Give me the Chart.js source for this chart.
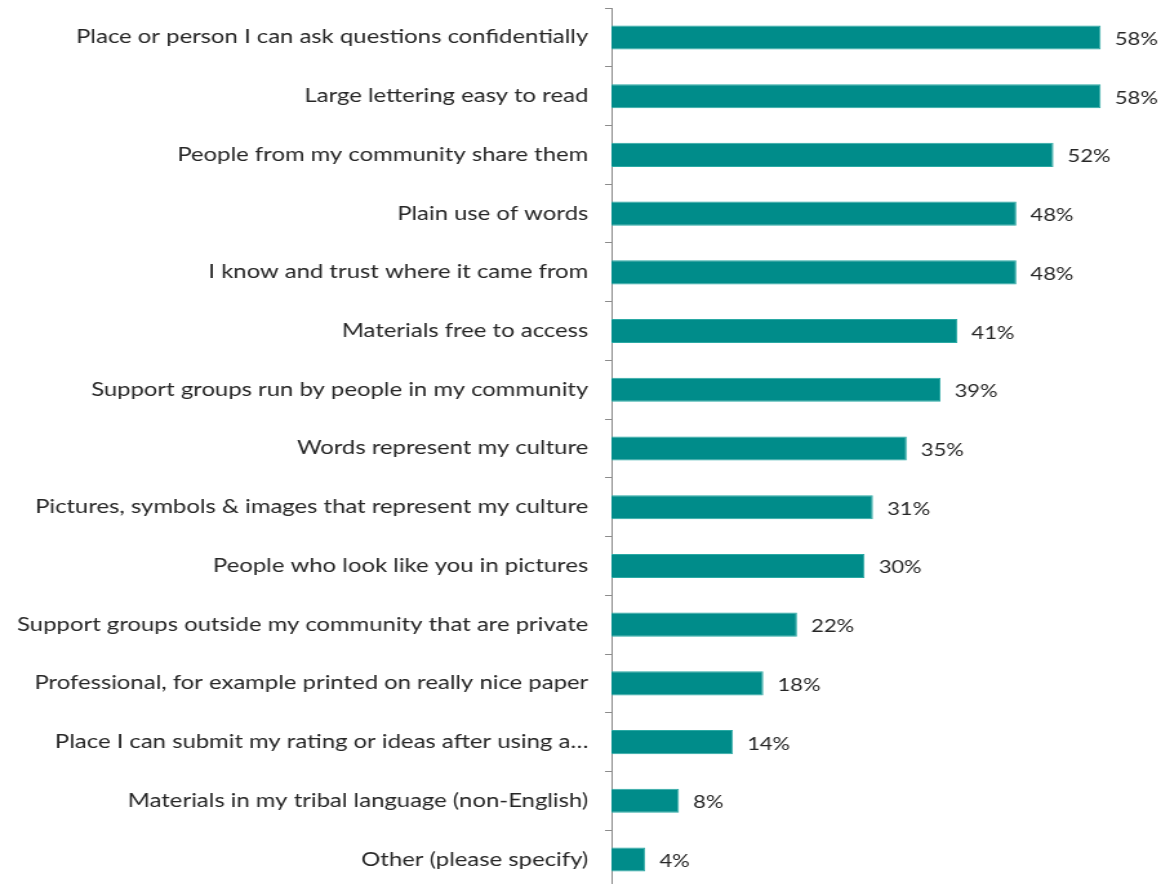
<!DOCTYPE html>
<html lang="en">
<head>
    <meta charset="UTF-8">
    <title>Preferred Materials</title>
    <style>
        html, body {
            margin: 0;
            padding: 0;
            background: #ffffff;
        }
        .frame {
            width: 1164px;
            height: 884px;
            overflow: hidden;
            position: relative;
        }
        /* the source image is stretched sideways, so the chart is too */
        .wrap {
            width: 902px;
            height: 929px;
            margin-top: -16px;
            transform: scaleX(1.29);
            transform-origin: 0 0;
        }
    </style>
    <script src="https://cdn.jsdelivr.net/npm/chart.js"></script>
</head>
<body>
    <div class="frame">
        <div class="wrap">
            <canvas id="barChart"></canvas>
        </div>
    </div>

    <script>
        const categories = [
            'Place or person I can ask questions confidentially',
            'Large lettering easy to read',
            'People from my community share them',
            'Plain use of words',
            'I know and trust where it came from',
            'Materials free to access',
            'Support groups run by people in my community',
            'Words represent my culture',
            'Pictures, symbols & images that represent my culture',
            'People who look like you in pictures',
            'Support groups outside my community that are private',
            'Professional, for example printed on really nice paper',
            'Place I can submit my rating or ideas after using a…',
            'Materials in my tribal language (non-English)',
            'Other (please specify)'
        ];
        const percentValues = [58, 58, 52.4, 48, 48, 41, 39, 35, 31, 30, 22, 18, 14.4, 8, 4];

        // draws the "58%" style labels right of each bar
        const valueLabels = {
            id: 'valueLabels',
            afterDatasetsDraw(chart) {
                const ctx = chart.ctx;
                const meta = chart.getDatasetMeta(0);
                ctx.save();
                ctx.font = '17px Lato, sans-serif';
                ctx.fillStyle = '#262626';
                ctx.textAlign = 'left';
                ctx.textBaseline = 'middle';
                meta.data.forEach((bar, i) => {
                    ctx.fillText(Math.round(percentValues[i]) + '%', bar.x + 11, bar.y + 2);
                });
                ctx.restore();
            }
        };

        const ctx = document.getElementById('barChart').getContext('2d');
        new Chart(ctx, {
            type: 'bar',
            data: {
                labels: categories,
                datasets: [{
                    data: percentValues,
                    backgroundColor: '#008c8a',
                    borderColor: '#2aa9a4',
                    borderWidth: 1,
                    barPercentage: 0.41,
                    categoryPercentage: 1
                }]
            },
            options: {
                indexAxis: 'y',
                responsive: true,
                maintainAspectRatio: false,
                animation: false,
                devicePixelRatio: 1,
                layout: {
                    padding: { top: 7, right: 3, bottom: 0, left: 0 }
                },
                plugins: {
                    legend: { display: false },
                    tooltip: { enabled: false }
                },
                scales: {
                    x: {
                        display: false,
                        min: 0,
                        max: 65
                    },
                    y: {
                        afterFit(axis) {
                            axis.width = 474;
                        },
                        grid: {
                            drawOnChartArea: false,
                            drawTicks: true,
                            tickLength: 5,
                            color: '#8c8c8c',
                            offset: true
                        },
                        border: {
                            display: true,
                            color: '#8c8c8c',
                            width: 1
                        },
                        ticks: {
                            color: '#262626',
                            padding: 13,
                            autoSkip: false,
                            font: { family: 'Lato, sans-serif', size: 18.5 }
                        }
                    }
                }
            },
            plugins: [valueLabels]
        });
    </script>
</body>
</html>
